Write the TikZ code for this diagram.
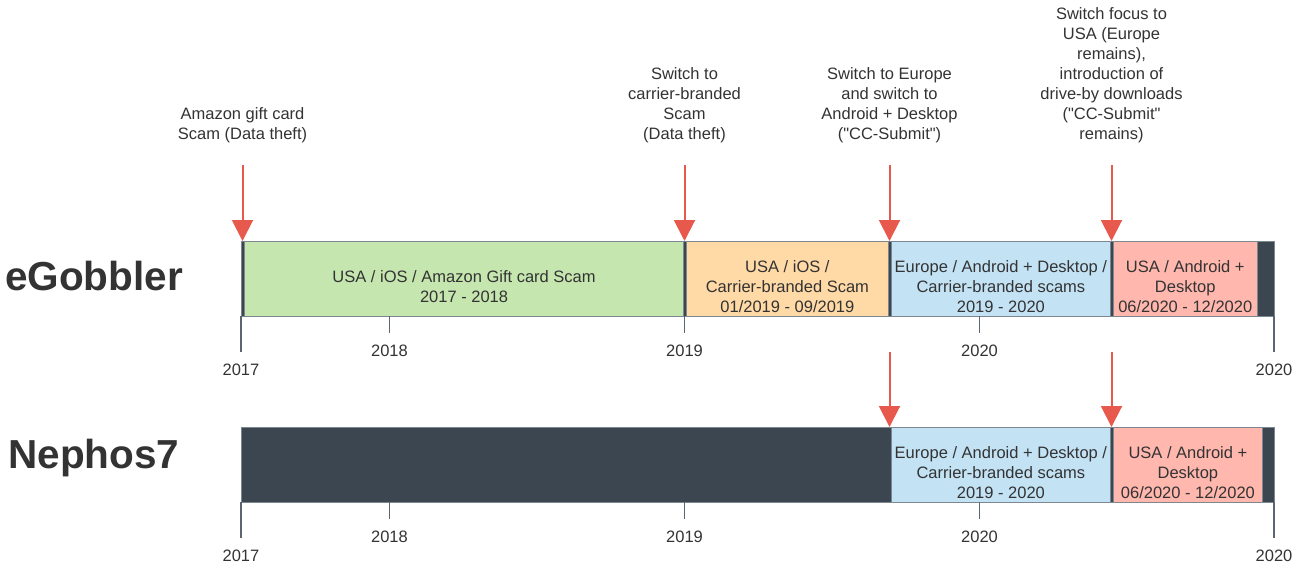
\documentclass[tikz,border=0pt]{standalone}
\usepackage{fontspec}
% no TeX ligature mapping, so " stays a straight quote
\setmainfont{Liberation Sans}[Ligatures=TeXOff]
\usetikzlibrary{arrows.meta}

\definecolor{cGreen}{HTML}{C6E6B0}
\definecolor{cOrange}{HTML}{FFD9A6}
\definecolor{cBlue}{HTML}{C3E3F5}
\definecolor{cPink}{HTML}{FFB7AE}
\definecolor{cDark}{HTML}{3C4650}
\definecolor{cEdge}{HTML}{7D8790}
\definecolor{cTick}{HTML}{5B6670}
\definecolor{cText}{HTML}{333333}
\definecolor{cRed}{HTML}{E8594D}

\tikzset{
  basebar/.style={rectangle, inner sep=0pt, fill=cDark, draw=cEdge, line width=0.8pt,
                  minimum height=75pt, anchor=north west},
  seg/.style={rectangle, inner sep=0pt, draw=cEdge, line width=0.8pt,
              minimum height=75pt, anchor=north west},
  segtext/.style={align=center, inner sep=0pt, text=cText,
                  font=\fontsize{16.5}{20}\selectfont},
  note/.style={align=center, inner sep=0pt, text=cText, anchor=south,
               font=\fontsize{16.5}{20}\selectfont},
  yearlbl/.style={inner sep=0pt, anchor=base, text=cText,
                  font=\fontsize{16.5}{20}\selectfont},
  tick/.style={draw=cTick, line width=1.6pt},
  event/.style={draw=cRed, line width=2pt, -{Triangle[length=21pt,width=21pt]}},
  family/.style={inner sep=0pt, anchor=base, text=cText,
                 font=\fontsize{40.5}{48}\bfseries\selectfont},
}

\begin{document}
\begin{tikzpicture}[x=1pt,y=-1pt]
\useasboundingbox (0,0) rectangle (1296,568);

% ---------------- eGobbler row ----------------
\node[family] (lblE) at (94,290) {eGobbler};

\node[basebar, minimum width=1033pt] (ebar) at (241,241) {};
\node[seg, fill=cGreen,  minimum width=439.3pt] (e1) at (244,241) {};
\node[seg, fill=cOrange, minimum width=202pt]   (e2) at (686,241) {};
\node[seg, fill=cBlue,   minimum width=219pt]   (e3) at (891,241) {};
\node[seg, fill=cPink,   minimum width=143.7pt] (e4) at (1113,241) {};

\node[segtext] (e1t) at ([yshift=-7.5pt]e1.center) {USA / iOS / Amazon Gift card Scam\\2017 - 2018};
\node[segtext] (e2t) at ([yshift=-7.5pt]e2.center) {USA / iOS /\\Carrier-branded Scam\\01/2019 - 09/2019};
\node[segtext] (e3t) at ([yshift=-7.5pt]e3.center) {Europe / Android + Desktop /\\Carrier-branded scams\\2019 - 2020};
\node[segtext] (e4t) at ([yshift=-7.5pt]e4.center) {USA / Android +\\Desktop\\06/2020 - 12/2020};

% axis ticks
\coordinate (et17a) at (241,316);    \coordinate (et17b) at (241,352);
\coordinate (et18a) at (389.5,316);  \coordinate (et18b) at (389.5,333);
\coordinate (et19a) at (684.5,316);  \coordinate (et19b) at (684.5,333);
\coordinate (et20a) at (979.5,316);  \coordinate (et20b) at (979.5,333);
\coordinate (et21a) at (1274,316);   \coordinate (et21b) at (1274,352);
\foreach \t in {17,18,19,20,21} \draw[tick] (et\t a) -- (et\t b);

\node[yearlbl] (ey17) at (241,375.7)   {2017};
\node[yearlbl] (ey18) at (389.5,356.7) {2018};
\node[yearlbl] (ey19) at (684.5,356.7) {2019};
\node[yearlbl] (ey20) at (979.5,356.7) {2020};
\node[yearlbl] (ey21) at (1274,375.7)  {2020};

% events
\node[note] (n1) at (242.5,143.5) {Amazon gift card\\Scam (Data theft)};
\node[note] (n2) at (684.5,143.5) {Switch to\\carrier-branded\\Scam\\(Data theft)};
\node[note] (n3) at (889.5,143.5) {Switch to Europe\\and switch to\\Android + Desktop\\("CC-Submit")};
\node[note] (n4) at (1111.5,143.5) {Switch focus to\\USA (Europe\\remains),\\introduction of\\drive-by downloads\\("CC-Submit"\\remains)};

\coordinate (a1) at (242.5,165);  \coordinate (b1) at (242.5,241);
\coordinate (a2) at (684.5,165);  \coordinate (b2) at (684.5,241);
\coordinate (a3) at (889.5,165);  \coordinate (b3) at (889.5,241);
\coordinate (a4) at (1111.5,165); \coordinate (b4) at (1111.5,241);
\foreach \i in {1,2,3,4} \draw[event] (a\i) -- (b\i);

% ---------------- Nephos7 row ----------------
\node[family] (lblN) at (94,468.7) {Nephos7};

\node[basebar, minimum width=1033pt] (nbar) at (241,427) {};
\node[seg, fill=cBlue, minimum width=219pt]   (n3s) at (891,427) {};
\node[seg, fill=cPink, minimum width=149pt]   (n4s) at (1113,427) {};

\node[segtext] (n3t) at ([yshift=-7.5pt]n3s.center) {Europe / Android + Desktop /\\Carrier-branded scams\\2019 - 2020};
\node[segtext] (n4t) at ([yshift=-7.5pt]n4s.center) {USA / Android +\\Desktop\\06/2020 - 12/2020};

\coordinate (nt17a) at (241,502);    \coordinate (nt17b) at (241,538);
\coordinate (nt18a) at (389.5,502);  \coordinate (nt18b) at (389.5,519);
\coordinate (nt19a) at (684.5,502);  \coordinate (nt19b) at (684.5,519);
\coordinate (nt20a) at (979.5,502);  \coordinate (nt20b) at (979.5,519);
\coordinate (nt21a) at (1274,502);   \coordinate (nt21b) at (1274,538);
\foreach \t in {17,18,19,20,21} \draw[tick] (nt\t a) -- (nt\t b);

\node[yearlbl] (ny17) at (241,561.7)   {2017};
\node[yearlbl] (ny18) at (389.5,542.7) {2018};
\node[yearlbl] (ny19) at (684.5,542.7) {2019};
\node[yearlbl] (ny20) at (979.5,542.7) {2020};
\node[yearlbl] (ny21) at (1274,561.7)  {2020};

\coordinate (c3) at (889.5,352); \coordinate (d3) at (889.5,427);
\coordinate (c4) at (1111.5,352); \coordinate (d4) at (1111.5,427);
\draw[event] (c3) -- (d3);
\draw[event] (c4) -- (d4);
\end{tikzpicture}
\end{document}
